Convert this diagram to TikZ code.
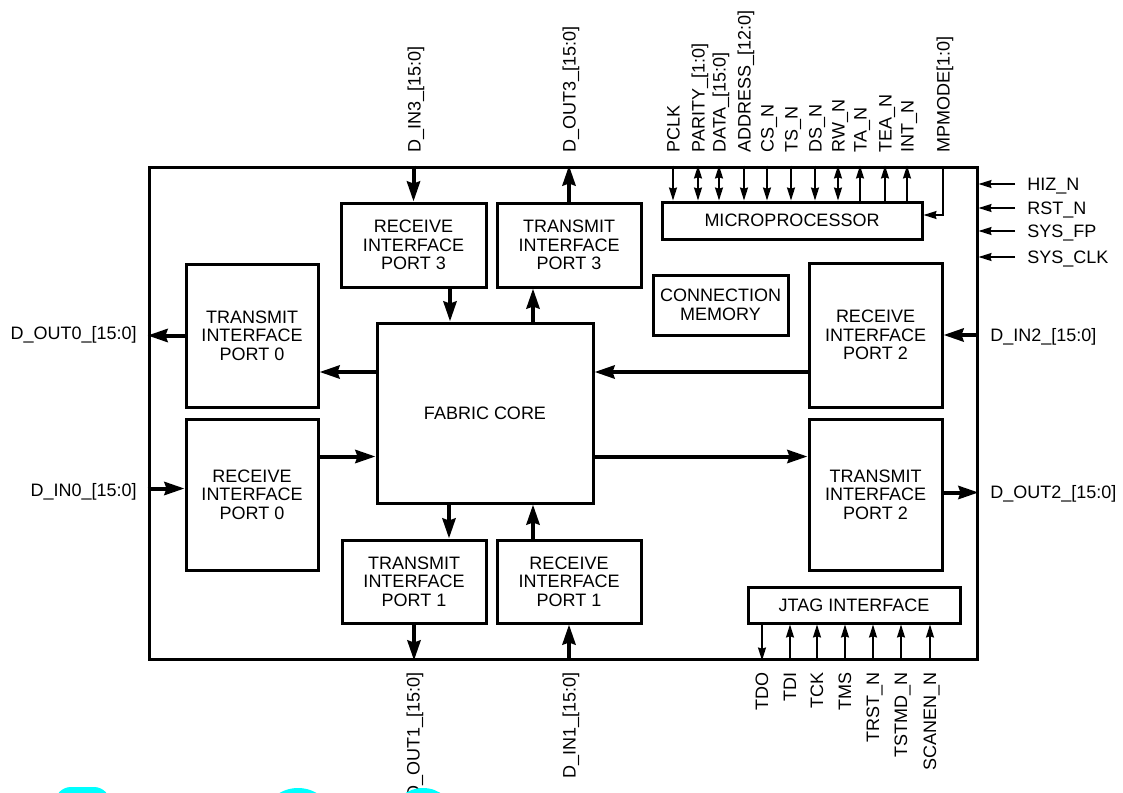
\documentclass[tikz,border=0pt]{standalone}
\usepackage{fontspec}
\setmainfont{Liberation Sans}
\usetikzlibrary{arrows.meta, positioning, calc}
\definecolor{cWmark}{RGB}{0,255,255}
\tikzset{
	blk/.style     ={rectangle, draw=black, line width=1.5pt, align=center, inner sep=1pt},
	bus/.style     ={line width=2pt, -{Stealth[length=10pt, width=6.5pt, inset=1pt]}},
	sig/.style     ={line width=0.75pt},
	sigend/.style  ={-{Stealth[length=6.5pt, width=4pt, inset=0.6pt]}},
	sigstart/.style={{Stealth[length=6.5pt, width=4pt, inset=0.6pt]}-},
	sigboth/.style ={{Stealth[length=6.5pt, width=4pt, inset=0.6pt]}-{Stealth[length=6.5pt, width=4pt, inset=0.6pt]}},
	% pin labels
	toplbl/.style  ={rotate=90, anchor=base west, inner sep=0pt},
	botlbl/.style  ={rotate=90, anchor=base east, inner sep=0pt},
}
\begin{document}
\begin{tikzpicture}[x=0.5pt, y=-0.5pt, font=\fontsize{9}{9.2}\selectfont]
	\useasboundingbox (0,0) rectangle (1123,792);
	% device outline
	\node[blk, minimum width=414pt, minimum height=246pt] (chip) at (563,413) {};
	% functional blocks
	\node[blk, minimum width=108pt, minimum height=90pt] (core) at (485,413) {FABRIC CORE};
	\node[blk, minimum width=66pt, minimum height=71.5pt] (tx0) at (252,335.5) {TRANSMIT\\INTERFACE\\PORT 0};
	\node[blk, minimum width=66pt, minimum height=75.5pt] (rx0) at (252,494.5) {RECEIVE\\INTERFACE\\PORT 0};
	\node[blk, minimum width=72.5pt, minimum height=42pt] (rx3) at (413.5,245) {RECEIVE\\INTERFACE\\PORT 3};
	\node[blk, minimum width=72pt, minimum height=42pt] (tx3) at (569,245) {TRANSMIT\\INTERFACE\\PORT 3};
	\node[blk, minimum width=72pt, minimum height=41.5pt] (tx1) at (414,581.5) {TRANSMIT\\INTERFACE\\PORT 1};
	\node[blk, minimum width=72pt, minimum height=41.5pt] (rx1) at (569,581.5) {RECEIVE\\INTERFACE\\PORT 1};
	\node[blk, minimum width=66.5pt, minimum height=72pt] (rx2) at (875.5,335) {RECEIVE\\INTERFACE\\PORT 2};
	\node[blk, minimum width=66.5pt, minimum height=75.5pt] (tx2) at (875.5,494.5) {TRANSMIT\\INTERFACE\\PORT 2};
	\node[blk, minimum width=67.5pt, minimum height=30pt] (cmem) at (720.5,305) {CONNECTION\\MEMORY};
	\node[blk, minimum width=130pt, minimum height=18.5pt] (mpu) at (792,220.5) {MICROPROCESSOR};
	\node[blk, minimum width=106pt, minimum height=18pt] (jtag) at (854,605) {JTAG INTERFACE};
	% data paths inside
	\draw[bus] ([xshift=18.25pt]rx3.south) -- ([xshift=18.25pt]rx3.south |- core.north);
	\draw[bus] ([xshift=-18pt]tx3.south |- core.north) -- ([xshift=-18pt]tx3.south);
	\draw[bus] ([xshift=17.5pt]tx1.north |- core.south) -- ([xshift=17.5pt]tx1.north);
	\draw[bus] ([xshift=-18pt]rx1.north) -- ([xshift=-18pt]rx1.north |- core.south);
	\draw[bus] ([yshift=-18.25pt]tx0.east -| core.west) -- ([yshift=-18.25pt]tx0.east);
	\draw[bus] ([yshift=19pt]rx0.east) -- ([yshift=19pt]rx0.east -| core.west);
	\draw[bus] ([yshift=-18.5pt]rx2.west) -- ([yshift=-18.5pt]rx2.west -| core.east);
	\draw[bus] ([yshift=19pt]tx2.west -| core.east) -- ([yshift=19pt]tx2.west);
	% data ports
	\draw[bus] (rx3.north |- chip.north) -- (rx3.north);
	\draw[bus] (tx3.north) -- (tx3.north |- chip.north);
	\draw[bus] (tx1.south) -- (tx1.south |- chip.south);
	\draw[bus] (rx1.south |- chip.south) -- (rx1.south);
	\draw[bus] (tx0.west) -- (tx0.west -| chip.west);
	\draw[bus] ([yshift=3pt]rx0.west -| chip.west) -- ([yshift=3pt]rx0.west);
	\draw[bus] (rx2.east -| chip.east) -- (rx2.east);
	\draw[bus] ([yshift=1pt]tx2.east) -- ([yshift=1pt]tx2.east -| chip.east);
	\node[toplbl] (din3) at (420.5,153) {D\_IN3\_[15:0]};
	\node[toplbl] (dout3) at (575.5,153) {D\_OUT3\_[15:0]};
	\node[botlbl] (dout1) at (419.5,672) {D\_OUT1\_[15:0]};
	\node[botlbl] (din1) at (575.5,672) {D\_IN1\_[15:0]};
	\node[anchor=base east, inner sep=0pt] (dout0) at (137,339.5) {D\_OUT0\_[15:0]};
	\node[anchor=base east, inner sep=0pt] (din0) at (137,496.5) {D\_IN0\_[15:0]};
	\node[anchor=base west, inner sep=0pt] (din2) at (990,341.5) {D\_IN2\_[15:0]};
	\node[anchor=base west, inner sep=0pt] (dout2) at (990,498.5) {D\_OUT2\_[15:0]};
	% microprocessor port
	\foreach \px/\nm/\tp in {673/PCLK/sigend, 698/PARITY\_[1:0]/sigboth, 719/DATA\_[15:0]/sigboth,
		744/ADDRESS\_[12:0]/sigend, 767/CS\_N/sigend, 791/TS\_N/sigend, 815/DS\_N/sigend,
		838/RW\_N/sigboth, 860/TA\_N/sigstart, 885/TEA\_N/sigstart, 907/INT\_N/sigstart} {
		\node[toplbl] (mp\px) at (\px+6.5,153) {\nm};
		\draw[sig, \tp] (\px,0 |- chip.north) -- (\px,0 |- mpu.north);
	}
	\node[toplbl] (mpmode) at (949.5,153) {MPMODE[1:0]};
	\coordinate (mpm) at (943,167);
	\draw[sig, sigend] (mpm) |- ([yshift=2.75pt]mpu.east);
	% control inputs
	\foreach \py/\nm in {184/HIZ\_N, 208/RST\_N, 231/SYS\_FP, 257/SYS\_CLK} {
		\node[anchor=base west, inner sep=0pt] (c\py) at (1027,\py+6.5) {\nm};
		\coordinate (s\py) at (1015,\py);
		\draw[sig, sigend] (s\py) -- (s\py -| chip.east);
	}
	% test port
	\foreach \px/\nm/\tp in {762/TDO/sigend, 790/TDI/sigstart, 817/TCK/sigstart, 845/TMS/sigstart,
		873/TRST\_N/sigstart, 901/TSTMD\_N/sigstart, 930/SCANEN\_N/sigstart} {
		\node[botlbl] (jt\px) at (\px+6,672) {\nm};
		\draw[sig, \tp] (\px,0 |- jtag.south) -- (\px,0 |- chip.south);
	}
	% watermark remains
	\begin{scope}
		\clip (0,786) rectangle (1123,792);
		\fill[cWmark, rounded corners=8pt] (55,787) rectangle (110,830);
		\fill[cWmark] (298,815) ellipse [x radius=32, y radius=27];
		\fill[cWmark] (423,815) ellipse [x radius=30, y radius=27];
	\end{scope}
\end{tikzpicture}
\end{document}
